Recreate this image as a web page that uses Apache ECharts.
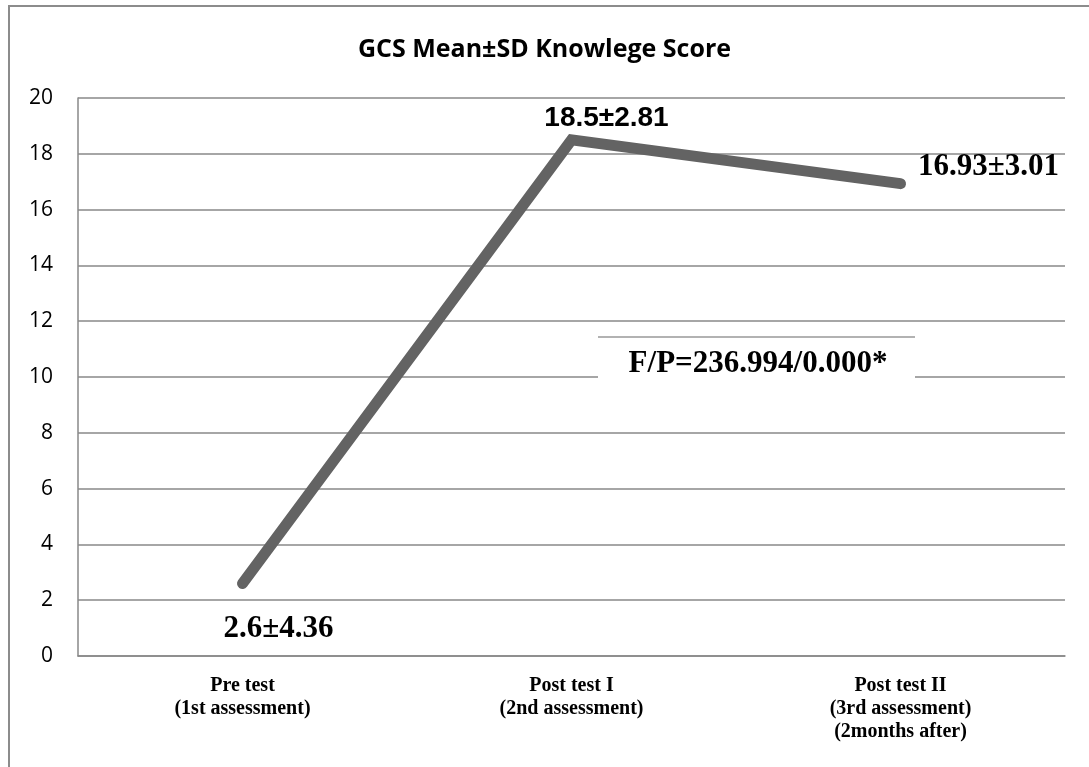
<!DOCTYPE html>
<html>
<head>
<meta charset="utf-8">
<script src="https://cdn.jsdelivr.net/npm/echarts@6/dist/echarts.min.js"></script>
<style>
  html, body { margin: 0; padding: 0; background: #fff; }
  #chart { width: 1089px; height: 767px; }
</style>
</head>
<body>
<div id="chart"></div>
<script>
// data
const categories = [
  'Pre test\n(1st assessment)',
  'Post test I\n(2nd assessment)',
  'Post test II\n(3rd assessment)\n(2months after)'
]
const meanScores = [2.6, 18.5, 16.93]
const scoreLabels = ['2.6±4.36', '18.5±2.81', '16.93±3.01']
const yTicks = { min: 0, max: 20, interval: 2 }
const statText = 'F/P=236.994/0.000*'

// label placement per point (offset from the point, font)
const labelStyles = [
  { offset: [36, 46], fontFamily: 'Liberation Serif', fontSize: 31 },
  { offset: [35, -22], fontFamily: 'Liberation Sans', fontSize: 28 },
  { offset: [88, -17], fontFamily: 'Liberation Serif', fontSize: 31 }
]

const chart = echarts.init(document.getElementById('chart'))

const seriesData = meanScores.map((v, i) => {
  return {
    value: v,
    label: {
      show: true,
      position: 'inside',
      formatter: scoreLabels[i],
      offset: labelStyles[i].offset,
      fontFamily: labelStyles[i].fontFamily,
      fontSize: labelStyles[i].fontSize,
      fontWeight: 'bold',
      color: '#000'
    }
  }
})

const option = {
  animation: false,
  backgroundColor: '#fff',
  title: {
    text: 'GCS Mean±SD Knowlege Score',
    left: 'center',
    top: 32,
    textStyle: {
      fontFamily: 'Open Sans',
      fontWeight: 'bold',
      fontSize: 25,
      color: '#000'
    }
  },
  grid: {
    left: 78,
    right: 24,
    top: 98,
    bottom: 111
  },
  xAxis: {
    type: 'category',
    data: categories,
    boundaryGap: true,
    axisTick: { show: false },
    axisLine: { lineStyle: { color: '#888', width: 1.5 } },
    axisLabel: {
      margin: 18,
      fontFamily: 'Liberation Serif',
      fontWeight: 'bold',
      fontSize: 20,
      lineHeight: 23,
      color: '#000'
    }
  },
  yAxis: {
    type: 'value',
    min: yTicks.min,
    max: yTicks.max,
    interval: yTicks.interval,
    axisLine: { show: true, lineStyle: { color: '#888', width: 1.5 } },
    axisTick: { show: false },
    splitLine: { lineStyle: { color: '#888', width: 1.5 } },
    axisLabel: {
      margin: 25,
      fontFamily: 'Open Sans',
      fontSize: 21,
      color: '#000'
    }
  },
  graphic: [
    {
      type: 'rect',
      silent: true,
      z: 0,
      shape: { x: 9, y: 6, width: 1300, height: 900 },
      style: { fill: 'none', stroke: '#8c8c8c', lineWidth: 2 }
    },
    {
      type: 'rect',
      z: 100,
      shape: { x: 598, y: 338, width: 317, height: 56 },
      style: { fill: '#fff' }
    },
    {
      type: 'line',
      z: 101,
      shape: { x1: 598, y1: 337, x2: 915, y2: 337 },
      style: { stroke: '#999', lineWidth: 1.5 }
    },
    {
      type: 'text',
      z: 102,
      style: {
        x: 758,
        y: 364,
        text: statText,
        align: 'center',
        verticalAlign: 'middle',
        fontFamily: 'Liberation Serif',
        fontWeight: 'bold',
        fontSize: 31,
        fill: '#000'
      }
    }
  ],
  series: [
    {
      name: 'Mean',
      type: 'line',
      data: seriesData,
      symbol: 'circle',
      symbolSize: 2,
      showSymbol: true,
      itemStyle: { color: '#636363' },
      z: 10,
      lineStyle: {
        color: '#636363',
        width: 11,
        cap: 'round',
        join: 'miter'
      }
    }
  ]
}

option && chart.setOption(option)
</script>
</body>
</html>
